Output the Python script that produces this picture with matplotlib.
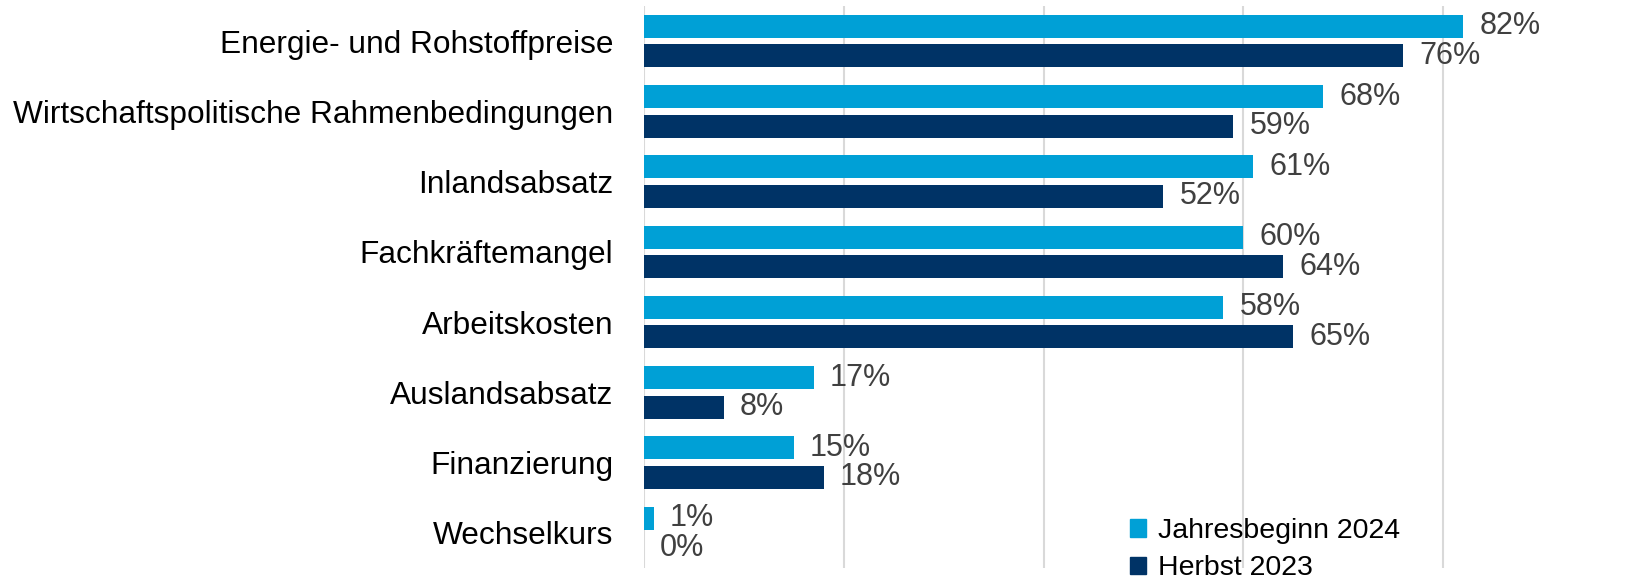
import matplotlib
matplotlib.use("Agg")
import matplotlib.pyplot as plt
import numpy as np
from matplotlib.patches import Patch

plt.rcParams['font.family'] = ['Liberation Sans', 'DejaVu Sans']

categories = ["Energie- und Rohstoffpreise", "Wirtschaftspolitische Rahmenbedingungen",
              "Inlandsabsatz", "Fachkräftemangel", "Arbeitskosten", "Auslandsabsatz",
              "Finanzierung", "Wechselkurs"]
jahresbeginn_2024 = [82, 68, 61, 60, 58, 17, 15, 1]
herbst_2023 = [76, 59, 52, 64, 65, 8, 18, 0]
series_names = ["Jahresbeginn 2024", "Herbst 2023"]
gridticks = [0, 20, 40, 60, 80]

c_light = "#00A0D6"
c_dark = "#003366"

W, H = 1637, 582
fig = plt.figure(figsize=(W/100, H/100), dpi=100)
ax = fig.add_axes([644/W, 14/H, 1 - 644/W, (568-6)/H])

y = np.arange(len(categories))
h = 0.33
off = 0.21
ax.barh(y - off, jahresbeginn_2024, height=h, color=c_light, zorder=3)
ax.barh(y + off, herbst_2023, height=h, color=c_dark, zorder=3)

for yi, v in zip(y, jahresbeginn_2024):
    ax.text(v + 1.6, yi - off, f"{v}%", va="center", ha="left", fontsize=22, color="#404040")
for yi, v in zip(y, herbst_2023):
    ax.text(v + 1.6, yi + off, f"{v}%", va="center", ha="left", fontsize=22, color="#404040")

ax.set_xlim(0, (W - 644) / 9.99)
ax.set_ylim(len(categories) - 0.5, -0.5)
ax.set_yticks(y)
ax.set_yticklabels(categories, fontsize=22.8, color="black")
ax.tick_params(axis="y", length=0, pad=22)
ax.set_xticks(gridticks)
ax.tick_params(axis="x", length=0, labelbottom=False)
ax.grid(axis="x", color="#D9D9D9", linewidth=1.5, zorder=0)
for s in ax.spines.values():
    s.set_visible(False)

handles = [Patch(color=c_light), Patch(color=c_dark)]
fig.legend(handles, series_names, loc="upper left", bbox_to_anchor=(1130/W, 1 - 518/H),
           frameon=False, fontsize=20.5, handlelength=0.55, handleheight=0.55,
           handletextpad=0.45, labelspacing=0.4, borderpad=0, borderaxespad=0)

fig.savefig("out.png", dpi=100)
